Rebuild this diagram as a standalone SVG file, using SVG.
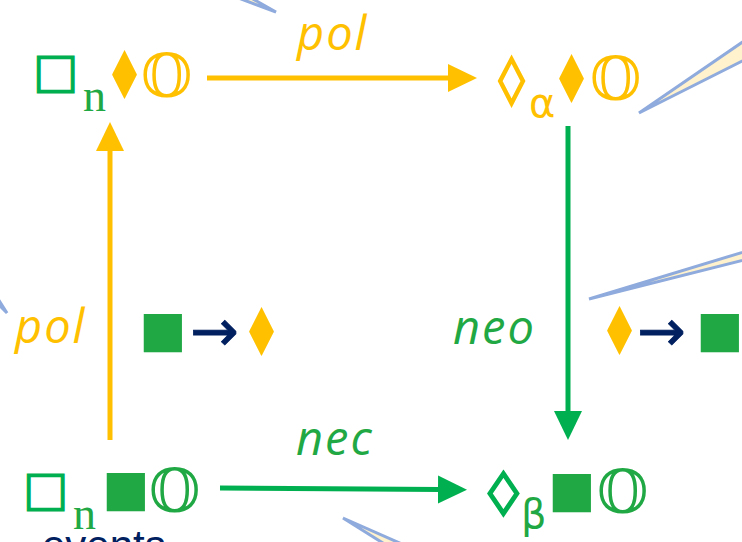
<svg xmlns="http://www.w3.org/2000/svg" width="742" height="542" viewBox="0 0 742 542">
<style>
.y{fill:#FFC000}
.g{fill:#1FA843}
.gs{fill:#00B050}
.nv{fill:#002060}
.box{font-family:"DejaVu Sans",sans-serif;font-size:48px;stroke:#00B050;stroke-width:1.2}
.loz{font-family:"DejaVu Sans",sans-serif;font-size:48px;text-anchor:middle;stroke-width:1.6}
.dia{font-family:"DejaVu Sans",sans-serif;font-size:48px;text-anchor:middle}
.sq{font-family:"DejaVu Sans",sans-serif;font-size:50px}
.arr{font-family:"DejaVu Sans",sans-serif;font-size:58px;fill:#002060;stroke:#002060;stroke-width:0.8}
.dbl{font-family:"DejaVu Serif","DejaVu Sans",serif;font-size:59px}
.lbl{font-family:"Open Sans",sans-serif;font-style:italic;font-size:47px;letter-spacing:2px}
.sub{font-family:"Liberation Serif",serif;font-size:46px}
.subs{font-family:"DejaVu Sans",sans-serif;font-size:40px}
.wedge{fill:#FFF2CC;stroke:#8FAADC;stroke-width:3;stroke-linejoin:miter}
</style>
<defs>
<marker id="ay" markerUnits="userSpaceOnUse" markerWidth="30" markerHeight="30" viewBox="0 0 30 30" refX="2" refY="15" orient="auto"><path d="M0,1 L29,15 L0,29 z" fill="#FFC000"/></marker>
<marker id="ag" markerUnits="userSpaceOnUse" markerWidth="30" markerHeight="30" viewBox="0 0 30 30" refX="2" refY="15" orient="auto"><path d="M0,1 L29,15 L0,29 z" fill="#00B050"/></marker>
</defs>
<rect width="742" height="542" fill="#fff"/>
<g id="callouts">
<polygon class="wedge" points="276,12 190,-20 205,-28"/>
<polygon class="wedge" points="639,113 760,30 760,52"/>
<polygon class="wedge" points="589,299 760,247 760,256"/>
<polygon class="wedge" points="343,518 410,560 420,552"/>
<polygon class="wedge" points="7,313 -20,285 -14,280"/>
</g>
<g id="connectors">
<line x1="207" y1="78" x2="450" y2="78" stroke="#FFC000" stroke-width="5" marker-end="url(#ay)"/>
<line x1="110" y1="440" x2="110" y2="149" stroke="#FFC000" stroke-width="5" marker-end="url(#ay)"/>
<line x1="568" y1="126" x2="568" y2="413" stroke="#00B050" stroke-width="5" marker-end="url(#ag)"/>
<line x1="220" y1="488" x2="440" y2="489.5" stroke="#00B050" stroke-width="5" marker-end="url(#ag)"/>
<text class="lbl y" x="297" y="50">pol</text>
<text class="lbl y" x="15" y="343">pol</text>
<text class="lbl g" x="453" y="344">neo</text>
<text class="lbl g" x="296" y="455">nec</text>
</g>
<g id="node-tl">
<text class="box gs" x="33" y="87">□</text>
<text class="sub g" x="83" y="111">n</text>
<text class="dia y" transform="translate(124.5,75) scale(0.92,1.4)" y="17">♦</text>
<text class="dbl y" x="141" y="97">𝕆</text>
</g>
<g id="node-tr">
<text class="loz y" stroke="#FFC000" transform="translate(511.5,80) scale(1.1,1)" y="15">◊</text>
<text class="subs y" x="529" y="117">α</text>
<text class="dia y" transform="translate(571.5,79) scale(0.92,1.4)" y="17">♦</text>
<text class="dbl y" x="590" y="100">𝕆</text>
</g>
<g id="node-bl">
<text class="box gs" x="23" y="505">□</text>
<text class="sub g" x="73" y="529">n</text>
<text class="sq g" x="102" y="504.5">■</text>
<text class="dbl g" x="149" y="512">𝕆</text>
</g>
<g id="node-br">
<text class="loz gs" stroke="#00B050" transform="translate(503.5,492) scale(1.3,0.9)" y="15">◊</text>
<text class="subs g" x="521" y="528">β</text>
<text class="sq g" x="548" y="505.5">■</text>
<text class="dbl g" x="597" y="513">𝕆</text>
</g>
<g id="rule-left">
<text class="sq g" x="139" y="345.5">■</text>
<text class="arr" x="190" y="351">→</text>
<text class="dia y" transform="translate(261.5,332) scale(0.92,1.4)" y="17">♦</text>
</g>
<g id="rule-right">
<text class="dia y" transform="translate(619.5,331.5) scale(0.92,1.4)" y="17">♦</text>
<text class="arr" x="637" y="351">→</text>
<text class="sq g" x="696" y="345.5">■</text>
</g>
<g id="caption">
<text class="nv" x="42" y="560" font-family="Liberation Sans, sans-serif" font-size="42">events</text>
</g>
</svg>
